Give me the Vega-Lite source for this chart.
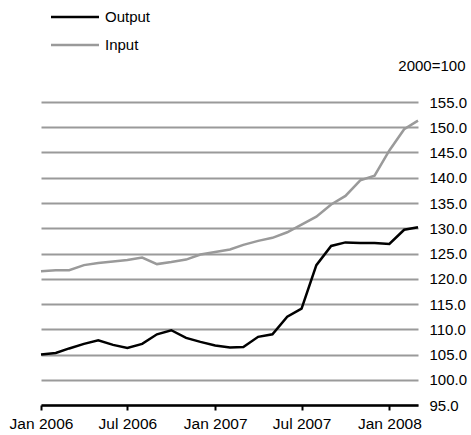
{
  "$schema": "https://vega.github.io/schema/vega-lite/v6.json",
  "width": 377,
  "height": 303,
  "autosize": "none",
  "padding": {"left": 41, "top": 102, "right": 53, "bottom": 30},
  "background": "white",
  "config": {
    "view": {"stroke": null},
    "font": "Liberation Sans",
    "axis": {"labelFont": "Liberation Sans", "titleFont": "Liberation Sans", "labelColor": "black", "titleColor": "black"},
    "legend": {"labelFont": "Liberation Sans"}
  },
  "data": {
    "values": [
      {"date": "2006/01/01", "Output": 105.0, "Input": 121.5},
      {"date": "2006/02/01", "Output": 105.3, "Input": 121.7},
      {"date": "2006/03/01", "Output": 106.2, "Input": 121.7},
      {"date": "2006/04/01", "Output": 107.1, "Input": 122.7},
      {"date": "2006/05/01", "Output": 107.8, "Input": 123.1},
      {"date": "2006/06/01", "Output": 106.9, "Input": 123.4},
      {"date": "2006/07/01", "Output": 106.3, "Input": 123.7},
      {"date": "2006/08/01", "Output": 107.1, "Input": 124.2},
      {"date": "2006/09/01", "Output": 109.0, "Input": 122.9},
      {"date": "2006/10/01", "Output": 109.8, "Input": 123.3},
      {"date": "2006/11/01", "Output": 108.3, "Input": 123.8},
      {"date": "2006/12/01", "Output": 107.5, "Input": 124.8},
      {"date": "2007/01/01", "Output": 106.8, "Input": 125.3},
      {"date": "2007/02/01", "Output": 106.4, "Input": 125.8},
      {"date": "2007/03/01", "Output": 106.5, "Input": 126.7},
      {"date": "2007/04/01", "Output": 108.5, "Input": 127.5},
      {"date": "2007/05/01", "Output": 109.0, "Input": 128.1},
      {"date": "2007/06/01", "Output": 112.5, "Input": 129.2},
      {"date": "2007/07/01", "Output": 114.1, "Input": 130.7},
      {"date": "2007/08/01", "Output": 122.7, "Input": 132.3},
      {"date": "2007/09/01", "Output": 126.5, "Input": 134.7},
      {"date": "2007/10/01", "Output": 127.2, "Input": 136.4},
      {"date": "2007/11/01", "Output": 127.1, "Input": 139.5},
      {"date": "2007/12/01", "Output": 127.1, "Input": 140.4},
      {"date": "2008/01/01", "Output": 126.9, "Input": 145.4},
      {"date": "2008/02/01", "Output": 129.7, "Input": 149.6},
      {"date": "2008/03/01", "Output": 130.2, "Input": 151.3}
    ]
  },
  "transform": [
    {"fold": ["Output", "Input"], "as": ["series", "value"]}
  ],
  "mark": {"type": "line", "strokeWidth": 2.5, "clip": false},
  "encoding": {
    "x": {
      "field": "date",
      "type": "temporal",
      "scale": {"domain": [{"year": 2006, "month": 1, "date": 1}, {"year": 2008, "month": 3, "date": 1}]},
      "axis": {
        "title": null,
        "values": [
          {"year": 2006, "month": 1, "date": 1},
          {"year": 2006, "month": 7, "date": 1},
          {"year": 2007, "month": 1, "date": 1},
          {"year": 2007, "month": 7, "date": 1},
          {"year": 2008, "month": 1, "date": 1}
        ],
        "format": "%b %Y",
        "grid": false,
        "domainColor": "black",
        "domainWidth": 2.5,
        "tickColor": "black",
        "tickWidth": 2,
        "tickSize": 5,
        "labelFontSize": 15.5,
        "labelPadding": 6,
        "labelFlush": false,
        "labelOverlap": false
      }
    },
    "y": {
      "field": "value",
      "type": "quantitative",
      "scale": {"domain": [95, 155], "nice": false, "zero": false},
      "axis": {
        "orient": "right",
        "values": [95, 100, 105, 110, 115, 120, 125, 130, 135, 140, 145, 150, 155],
        "format": ".1f",
        "title": "2000=100",
        "titleAngle": 0,
        "titleAlign": "right",
        "titleBaseline": "alphabetic",
        "titleX": 47,
        "titleY": -32,
        "titleFontSize": 15,
        "titleFontWeight": "normal",
        "domain": false,
        "ticks": false,
        "grid": true,
        "gridColor": "#9a9a9a",
        "gridWidth": 2,
        "gridOpacity": 1,
        "labelFontSize": 15,
        "labelPadding": 11,
        "labelBaseline": "middle"
      }
    },
    "color": {
      "field": "series",
      "type": "nominal",
      "scale": {"domain": ["Output", "Input"], "range": ["black", "#9a9a9a"]},
      "legend": {
        "title": null,
        "orient": "none",
        "legendX": 14.5,
        "legendY": -104.5,
        "direction": "vertical",
        "symbolType": "M-1.3333,0H1.3333",
        "symbolSize": 1296,
        "symbolStrokeWidth": 2.5,
        "labelFontSize": 15,
        "labelOffset": 10.5,
        "rowPadding": 0,
        "padding": 0,
        "labelColor": "black"
      }
    }
  }
}
